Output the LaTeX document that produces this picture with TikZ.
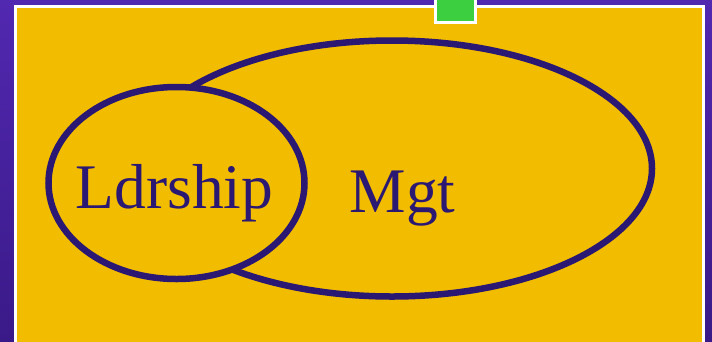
\documentclass[tikz,border=0pt]{standalone}
\usepackage{fontspec}
\setmainfont{Liberation Serif}
\usepackage{tikz}
\usetikzlibrary{shapes.geometric, positioning, backgrounds, calc}
\usepackage{xcolor}
\definecolor{bgtop}{HTML}{5128B0}
\definecolor{bgbot}{HTML}{3A1A88}
\definecolor{panel}{HTML}{F2BC00}
\definecolor{ink}{HTML}{2B1872}
\definecolor{tab}{HTML}{3CD040}
\tikzstyle{setring}  = [ellipse, draw=ink, line width=6.5pt, inner sep=0pt, outer sep=0pt]
\tikzstyle{setlabel} = [text=ink, font=\fontsize{63.5}{63.5}\selectfont, anchor=base, inner sep=0pt]

\begin{document}
\begin{tikzpicture}[x=1pt, y=-1pt]
  \useasboundingbox (0,0) rectangle (712,341);
  \clip (0,0) rectangle (712,341);
  \shade[top color=bgtop, bottom color=bgbot] (0,0) rectangle (712,341);
  \draw[white, line width=3pt, fill=panel] (15.5,6.5) rectangle (703.5,360);
  \draw[white, line width=3pt, fill=tab] (435.5,-5) rectangle (475.5,22.5);

  \node (mgtset) [setring, minimum width=520pt, minimum height=256pt] at (392,168.5) {};
  \node (ldrset) [setring, fill=panel, minimum width=256pt, minimum height=192pt] at (176.5,183) {};

  \node (ldr) [setlabel] at (174.5,208) {Ldrship};
  \node (mgt) [setlabel] at (402.5,212) {Mgt};
\end{tikzpicture}
\end{document}
